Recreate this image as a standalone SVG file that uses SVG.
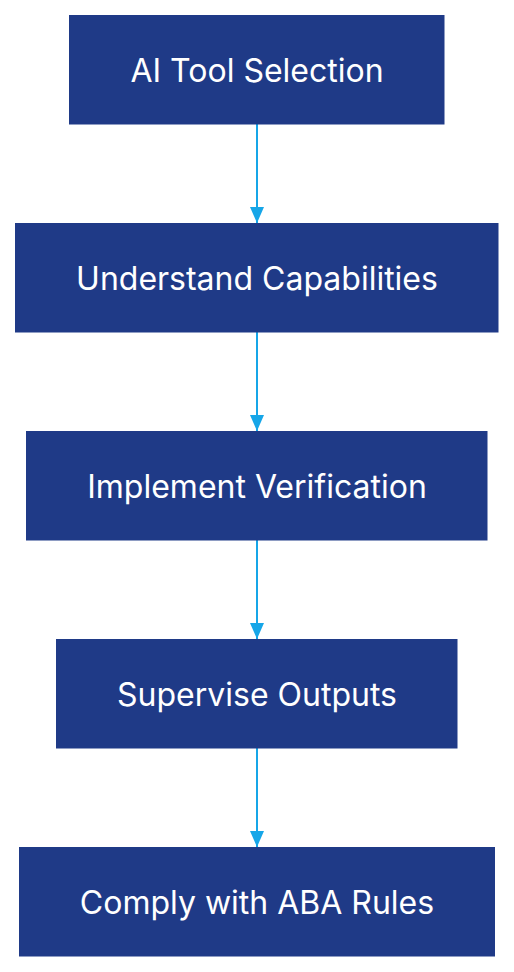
<svg xmlns="http://www.w3.org/2000/svg" width="514" height="972" viewBox="0 0 514 972">
<style>
.box{fill:#1f3a87}
.lbl{fill:#ffffff;font-family:Inter,"Noto Sans",sans-serif;font-size:32px;text-anchor:middle;dominant-baseline:central}
.edge{stroke:#16a6e8;stroke-width:2;fill:none}
</style>
<defs>
<marker id="arr" viewBox="0 0 16 14" refX="16" refY="7" markerWidth="16" markerHeight="14" markerUnits="userSpaceOnUse" orient="auto">
<path d="M0,0 L16,7 L0,14 Z" fill="#16a6e8"/>
</marker>
</defs>
<g id="edges">
<line class="edge" x1="257" y1="124" x2="257" y2="223" marker-end="url(#arr)"/>
<line class="edge" x1="257" y1="332" x2="257" y2="431" marker-end="url(#arr)"/>
<line class="edge" x1="257" y1="540" x2="257" y2="639" marker-end="url(#arr)"/>
<line class="edge" x1="257" y1="748" x2="257" y2="847" marker-end="url(#arr)"/>
</g>
<g id="n1"><rect class="box" x="69" y="15" width="375.5" height="109.5"/><text class="lbl" x="257" y="70">AI Tool Selection</text></g>
<g id="n2"><rect class="box" x="15" y="223" width="483.5" height="109.5"/><text class="lbl" x="257" y="278">Understand Capabilities</text></g>
<g id="n3"><rect class="box" x="26" y="431" width="461.5" height="109.5"/><text class="lbl" x="257" y="486">Implement Verification</text></g>
<g id="n4"><rect class="box" x="56" y="639" width="401.5" height="109.5"/><text class="lbl" x="257" y="694">Supervise Outputs</text></g>
<g id="n5"><rect class="box" x="19" y="847" width="476" height="109.5"/><text class="lbl" x="257" y="902">Comply with ABA Rules</text></g>
</svg>
